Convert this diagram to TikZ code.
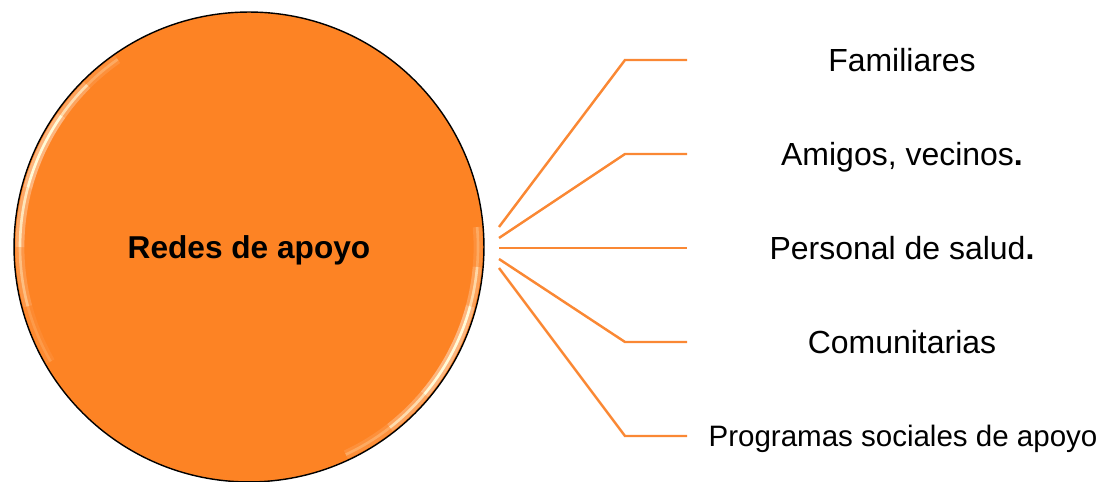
\documentclass[tikz,border=0pt]{standalone}
\usepackage{fontspec}
\setmainfont{Liberation Sans}
\definecolor{rdorange}{RGB}{253,131,36}
\definecolor{rdline}{RGB}{250,136,52}
\definecolor{rdshine}{RGB}{255,250,215}
\usetikzlibrary{positioning,calc}
\tikzset{
  hub/.style={circle, draw=black, line width=0.8pt, fill=rdorange, text depth=0pt,
              minimum size=9.4cm, font=\fontsize{18}{20}\selectfont\bfseries},
  item/.style={anchor=base, font=\fontsize{18.2}{20}\selectfont},
  link/.style={draw=rdline, line width=1.4pt},
  shine/.style={draw=#1, line cap=butt},
}
\begin{document}
\begin{tikzpicture}[x=0.02cm, y=0.02cm]
\useasboundingbox (0,0) rectangle (1101,482);

% --- Central circle ---
\node[hub] (hub) at (249,235) {Redes de apoyo};

% Glossy rim, faded in steps
\foreach \a/\b/\o in {125/135/0.25, 135/145/0.65, 145/165/1, 165/180/0.75, 180/195/0.4, 195/210/0.15,
                      5/-5/0.25, -5/-15/0.6, -15/-40/1, -40/-52/0.65, -52/-65/0.25} {
  \draw[shine=rdorange!40!white, line width=5pt, opacity=0.7*\o] ([shift={(\a:229)}]hub.center) arc[start angle=\a, end angle=\b, radius=229];
  \draw[shine=rdshine, line width=1.5pt, opacity=\o] ([shift={(\a:229)}]hub.center) arc[start angle=\a, end angle=\b, radius=229];
}

% --- Branches ---
\foreach \nm/\txt/\ly/\sy in {fam/Familiares/422/255,
                              ami/{Amigos, vecinos\textbf{.}}/328/244,
                              per/{Personal de salud\textbf{.}}/234/234,
                              com/Comunitarias/140/223} {
  \coordinate (\nm-s) at (499,\sy);
  \coordinate (\nm-b) at (625,\ly);
  \coordinate (\nm-e) at (687,\ly);
  \node[item] (\nm) at (902,\ly-12) {\txt};
  \draw[link] (\nm-s) -- (\nm-b) -- (\nm-e);
}

% Last one, smaller text
\coordinate (pro-s) at (499,214);
\coordinate (pro-b) at (625,46);
\coordinate (pro-e) at (687,46);
\node[item, font=\fontsize{16.8}{18}\selectfont] (pro) at (903,35) {Programas sociales de apoyo};
\draw[link] (pro-s) -- (pro-b) -- (pro-e);

\end{tikzpicture}
\end{document}
